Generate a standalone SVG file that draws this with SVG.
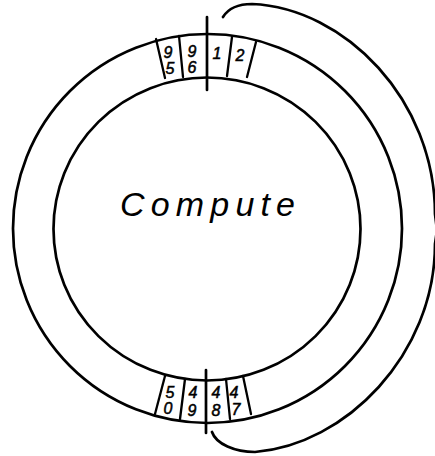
<svg xmlns="http://www.w3.org/2000/svg" width="435" height="456" viewBox="0 0 435 456">
<style>
.ln{fill:none;stroke:#000;stroke-width:2.7;stroke-linecap:round;stroke-linejoin:round}
.dv{fill:none;stroke:#000;stroke-width:2.3;stroke-linecap:round}
.d{font-family:"Liberation Sans",sans-serif;font-style:italic;font-size:16px;fill:#000;stroke:#000;stroke-width:0.5;text-anchor:middle}
.t{font-family:"Liberation Sans",sans-serif;font-style:italic;font-size:34px;fill:#000}
</style>
<rect width="435" height="456" fill="#fff"/>
<g id="ring">
<ellipse cx="207.5" cy="228.5" rx="194.5" ry="194.5" class="ln"/>
<ellipse cx="207" cy="229" rx="153.5" ry="151.5" class="ln"/>
</g>
<g id="compute">
<text class="t" x="120" y="216" textLength="175" lengthAdjust="spacing">Compute</text>
</g>
<g id="top-register">
<line class="dv" x1="156" y1="39" x2="165" y2="78"/>
<line class="dv" x1="179" y1="36" x2="183" y2="77"/>
<line class="dv" x1="232" y1="37" x2="227" y2="76"/>
<line class="dv" x1="256" y1="42" x2="247" y2="77"/>
<text class="d" x="168" y="58">9</text>
<text class="d" x="170" y="74">5</text>
<text class="d" x="192" y="57">9</text>
<text class="d" x="192" y="73">6</text>
<text class="d" x="217" y="59">1</text>
<text class="d" x="240" y="61">2</text>
</g>
<g id="bottom-register">
<line class="dv" x1="165" y1="376" x2="155" y2="414"/>
<line class="dv" x1="185" y1="379" x2="180" y2="419"/>
<line class="dv" x1="226" y1="379" x2="230" y2="419"/>
<line class="dv" x1="243" y1="376" x2="251" y2="414"/>
<text class="d" x="170" y="398">5</text>
<text class="d" x="168" y="414">0</text>
<text class="d" x="193" y="398">4</text>
<text class="d" x="192" y="416">9</text>
<text class="d" x="216" y="398">4</text>
<text class="d" x="216" y="416">8</text>
<text class="d" x="234" y="398">4</text>
<text class="d" x="236" y="415">7</text>
</g>
<g id="connectors">
<line class="ln" x1="207" y1="17" x2="207" y2="90"/>
<line class="ln" x1="206" y1="370" x2="206" y2="433"/>
<path class="ln" d="M223,17 C228,9 238,4 252,4 C345,8 435,100 435,214 L437,230 L435,244 C435,355 345,445 255,452 C235,452 216,444 212,432"/>
</g>
</svg>
